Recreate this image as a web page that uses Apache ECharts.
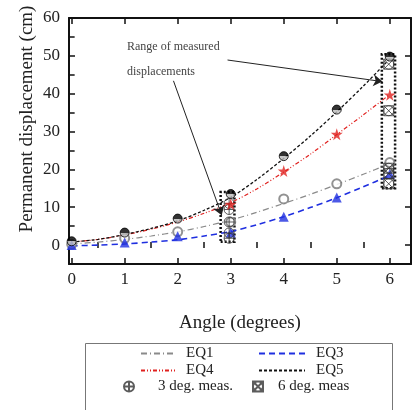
<!DOCTYPE html>
<html>
<head>
<meta charset="utf-8">
<script src="https://cdn.jsdelivr.net/npm/echarts@6/dist/echarts.min.js"></script>
<style>
  html, body { margin: 0; padding: 0; background: #fff; }
  #chart { width: 412px; height: 410px; }
</style>
</head>
<body>
<div id="chart"></div>
<script>
// 曲线（从图中每半度读取）
const curveAngles = [0, 0.5, 1, 1.5, 2, 2.5, 3, 3.5, 4, 4.5, 5, 5.5, 6];
const eq1Curve = [0.3, 0.8, 1.5, 2.4, 3.5, 4.9, 6.6, 8.7, 11.0, 13.4, 16.0, 18.7, 21.5];
const eq3Curve = [-0.2, 0, 0.3, 0.8, 1.4, 2.4, 3.6, 5.4, 7.5, 9.9, 12.5, 15.4, 18.4];
const eq4Curve = [0.8, 1.5, 2.7, 4.2, 6.1, 8.4, 11.2, 14.9, 19.3, 24.0, 29.2, 34.4, 39.8];
const eq5Curve = [0.8, 1.5, 2.8, 4.4, 6.4, 9.2, 12.6, 17.4, 22.9, 28.8, 35.2, 42.0, 49.2];

// 计算点
const angles = [0, 1, 2, 3, 4, 5, 6];
const eq1Pts = [0.2, 1.8, 3.5, 6.1, 12.2, 16.2, 21.8];
const eq3Pts = [0, 0.7, 2.3, 3.3, 7.5, 12.6, 18.8];
const eq4Pts = [null, null, null, 10.8, 19.6, 29.3, 39.7];
const eq5Pts = [1.0, 3.3, 7.0, 13.5, 23.5, 35.8, 49.8];

// 实测位移
const meas3Angle = 2.97;
const meas3 = [11.0, 9.4, 6.1, 3.2, 1.8];
const meas6Angle = 5.98;
const meas6 = [47.8, 35.5, 20.3, 18.9, 16.2];

// 刻度
const xTicks = [0, 1, 2, 3, 4, 5, 6];
const xMinorTicks = [0.5, 1.5, 2.5, 3.5, 4.5, 5.5];
const yTicks = [0, 10, 20, 30, 40, 50, 60];
const yMinorTicks = [5, 15, 25, 35, 45, 55];

const FONT = 'Liberation Serif';
const pairs = (xs, ys) => xs.map((a, i) => [a, ys[i]]);
const atAngle = (a, ys) => ys.map(v => [a, v]);

const plusCircle = 'path://M0,10A10,10,0,1,1,20,10A10,10,0,1,1,0,10ZM10,0V20M0,10H20';
const crossBox = 'path://M0,0H20V20H0ZM0,0L20,20M20,0L0,20M0,10A10,10,0,1,1,20,10A10,10,0,1,1,0,10Z';
const star = 'path://M50,0L61,35L98,35L68,57L79,91L50,70L21,91L32,57L2,35L39,35Z';

const chart = echarts.init(document.getElementById('chart'));

const axisBase = (pos, extra) => Object.assign({
    type: 'value',
    position: pos,
    axisLine: { show: true, onZero: false, lineStyle: { color: '#111', width: 2 } },
    splitLine: { show: false },
    axisLabel: { show: false }
}, extra);

const xRange = { min: -0.05, max: 6.4 };
const yRange = { min: -5, max: 60 };
const tickStyle = { color: '#111', width: 1.5 };

const option = {
    animation: false,
    backgroundColor: '#fff',
    grid: { left: 69, right: 1, top: 18, bottom: 146 },
    xAxis: [
        axisBase('bottom', Object.assign({
            name: 'Angle (degrees)',
            nameLocation: 'middle',
            nameGap: 50,
            nameTextStyle: { fontFamily: FONT, fontSize: 19, color: '#222' },
            axisTick: { show: true, inside: true, length: 6, customValues: xTicks, lineStyle: tickStyle },
            axisLabel: { show: true, customValues: xTicks, margin: 7, fontFamily: FONT, fontSize: 17, color: '#222' }
        }, xRange)),
        axisBase('bottom', Object.assign({
            axisLine: { show: false },
            axisTick: { show: true, inside: true, length: 3, customValues: xMinorTicks, lineStyle: tickStyle }
        }, xRange)),
        axisBase('top', Object.assign({
            axisTick: { show: true, inside: true, length: 6, customValues: xTicks, lineStyle: tickStyle }
        }, xRange)),
        axisBase('top', Object.assign({
            axisLine: { show: false },
            axisTick: { show: true, inside: true, length: 3, customValues: xMinorTicks, lineStyle: tickStyle }
        }, xRange))
    ],
    yAxis: [
        axisBase('left', Object.assign({
            axisTick: { show: true, inside: true, length: 6, customValues: yTicks, lineStyle: tickStyle },
            axisLabel: { show: true, customValues: yTicks, margin: 9, fontFamily: FONT, fontSize: 17, color: '#222' }
        }, yRange)),
        axisBase('left', Object.assign({
            axisLine: { show: false },
            axisTick: { show: true, inside: true, length: 3, customValues: yMinorTicks, lineStyle: tickStyle }
        }, yRange)),
        axisBase('right', Object.assign({
            axisTick: { show: true, inside: true, length: 6, customValues: yTicks, lineStyle: tickStyle }
        }, yRange)),
        axisBase('right', Object.assign({
            axisLine: { show: false },
            axisTick: { show: true, inside: true, length: 3, customValues: yMinorTicks, lineStyle: tickStyle }
        }, yRange))
    ],
    legend: [
        {
            data: ['EQ1', 'EQ4'], orient: 'vertical', left: 140, top: 345, padding: 0,
            itemWidth: 34, itemHeight: 10, itemGap: 0,
            itemStyle: { opacity: 0 },
            textStyle: { fontFamily: FONT, fontSize: 15, color: '#222', lineHeight: 17, padding: [0, 0, 0, 6] }
        },
        {
            data: ['EQ3', 'EQ5'], orient: 'vertical', left: 258, top: 345, padding: 0,
            itemWidth: 46, itemHeight: 10, itemGap: 0,
            itemStyle: { opacity: 0 },
            textStyle: { fontFamily: FONT, fontSize: 15, color: '#222', lineHeight: 17, padding: [0, 0, 0, 6] }
        },
        {
            data: ['3 deg. meas.'], left: 123, top: 378, padding: 0,
            itemWidth: 10, itemHeight: 10,
            textStyle: { fontFamily: FONT, fontSize: 15, color: '#222', lineHeight: 17, padding: [0, 0, 0, 19] }
        },
        {
            data: ['6 deg. meas'], left: 252, top: 378, padding: 0,
            itemWidth: 10, itemHeight: 10,
            textStyle: { fontFamily: FONT, fontSize: 15, color: '#222', lineHeight: 17, padding: [0, 0, 0, 10] }
        }
    ],
    graphic: [
        {
            type: 'rect', left: 83, top: 341, z: -1,
            shape: { width: 307, height: 90 },
            style: { fill: 'none', stroke: '#777', lineWidth: 1 }
        },
        {
            type: 'text', x: 27, y: 119, rotation: Math.PI / 2,
            style: { text: 'Permanent displacement (cm)', font: '19px "Liberation Serif"', fill: '#222', align: 'center', verticalAlign: 'middle' }
        },
        {
            type: 'text', x: 127, y: 47,
            style: { text: 'Range of measured', font: '12px "Liberation Serif"', fill: '#444', verticalAlign: 'middle' }
        },
        {
            type: 'text', x: 127, y: 72,
            style: { text: 'displacements', font: '12px "Liberation Serif"', fill: '#444', verticalAlign: 'middle' }
        }
    ],
    series: [
        {
            name: 'EQ1', type: 'line', data: pairs(curveAngles, eq1Curve), smooth: 0.3,
            symbol: 'none', z: 2,
            lineStyle: { color: '#8a8a8a', width: 1.2, type: [6, 3, 1, 3] }, itemStyle: { color: '#8a8a8a' }
        },
        {
            name: 'EQ3', type: 'line', data: pairs(curveAngles, eq3Curve), smooth: 0.3,
            symbol: 'none', z: 2,
            lineStyle: { color: '#1f2fe0', width: 1.6, type: [6, 4] }, itemStyle: { color: '#1f2fe0' }
        },
        {
            name: 'EQ4', type: 'line', data: pairs(curveAngles, eq4Curve), smooth: 0.3,
            symbol: 'none', z: 2,
            lineStyle: { color: '#e0201e', width: 1.2, type: [4, 2, 1, 2, 1, 2] }, itemStyle: { color: '#e0201e' }
        },
        {
            name: 'EQ5', type: 'line', data: pairs(curveAngles, eq5Curve), smooth: 0.3,
            symbol: 'none', z: 2,
            lineStyle: { color: '#111', width: 1.3, type: [3, 2] }, itemStyle: { color: '#111' },
            markLine: {
                silent: true, symbol: ['none', 'arrow'], symbolSize: 9,
                label: { show: false },
                lineStyle: { color: '#222', width: 1, type: 'solid' },
                data: [
                    [{ coord: [2.94, 48.9] }, { coord: [5.86, 43.2] }],
                    [{ coord: [1.92, 43.4] }, { coord: [2.83, 7.9] }]
                ]
            }
        },
        {
            name: 'EQ1 pts', type: 'scatter', data: pairs(angles, eq1Pts), symbol: 'emptyCircle', symbolSize: 9, z: 3,
            itemStyle: { color: '#777', borderWidth: 1 }
        },
        {
            name: 'EQ3 pts', type: 'scatter', data: pairs(angles, eq3Pts), symbol: 'triangle', symbolSize: 10, z: 3,
            itemStyle: { color: '#1f2fe0' }
        },
        {
            name: '3 deg. meas.', type: 'scatter', data: atAngle(meas3Angle, meas3), symbol: plusCircle, symbolSize: 10, z: 4,
            itemStyle: { color: 'rgba(255,255,255,0)', borderColor: '#333', borderWidth: 1 },
            markArea: {
                silent: true,
                itemStyle: { color: 'rgba(0,0,0,0)', borderColor: '#111', borderWidth: 2.5, borderType: [2, 2] },
                data: [[{ xAxis: 2.81, yAxis: 0.9 }, { xAxis: 3.07, yAxis: 14 }]]
            }
        },
        {
            name: '6 deg. meas', type: 'scatter', data: atAngle(meas6Angle, meas6), symbol: crossBox, symbolSize: 10, z: 4,
            itemStyle: { color: 'rgba(255,255,255,0)', borderColor: '#333', borderWidth: 1 },
            markArea: {
                silent: true,
                itemStyle: { color: 'rgba(0,0,0,0)', borderColor: '#111', borderWidth: 2.5, borderType: [2, 2] },
                data: [[{ xAxis: 5.85, yAxis: 15 }, { xAxis: 6.1, yAxis: 50.4 }]]
            }
        },
        {
            name: 'EQ4 pts', type: 'scatter', data: pairs(angles, eq4Pts), symbol: star, symbolSize: 12, z: 5,
            itemStyle: { color: '#e0201e' }
        },
        {
            name: 'EQ5 pts', type: 'scatter', data: pairs(angles, eq5Pts), symbol: 'circle', symbolSize: 9, z: 5,
            itemStyle: {
                color: {
                    type: 'linear', x: 0, y: 0, x2: 0, y2: 1,
                    colorStops: [
                        { offset: 0, color: '#000' }, { offset: 0.5, color: '#000' },
                        { offset: 0.5, color: '#bbb' }, { offset: 1, color: '#bbb' }
                    ]
                },
                borderColor: '#000', borderWidth: 1
            }
        }
    ]
};

chart.setOption(option);

window.addEventListener('resize', () => {
    chart.resize();
});
</script>
</body>
</html>
